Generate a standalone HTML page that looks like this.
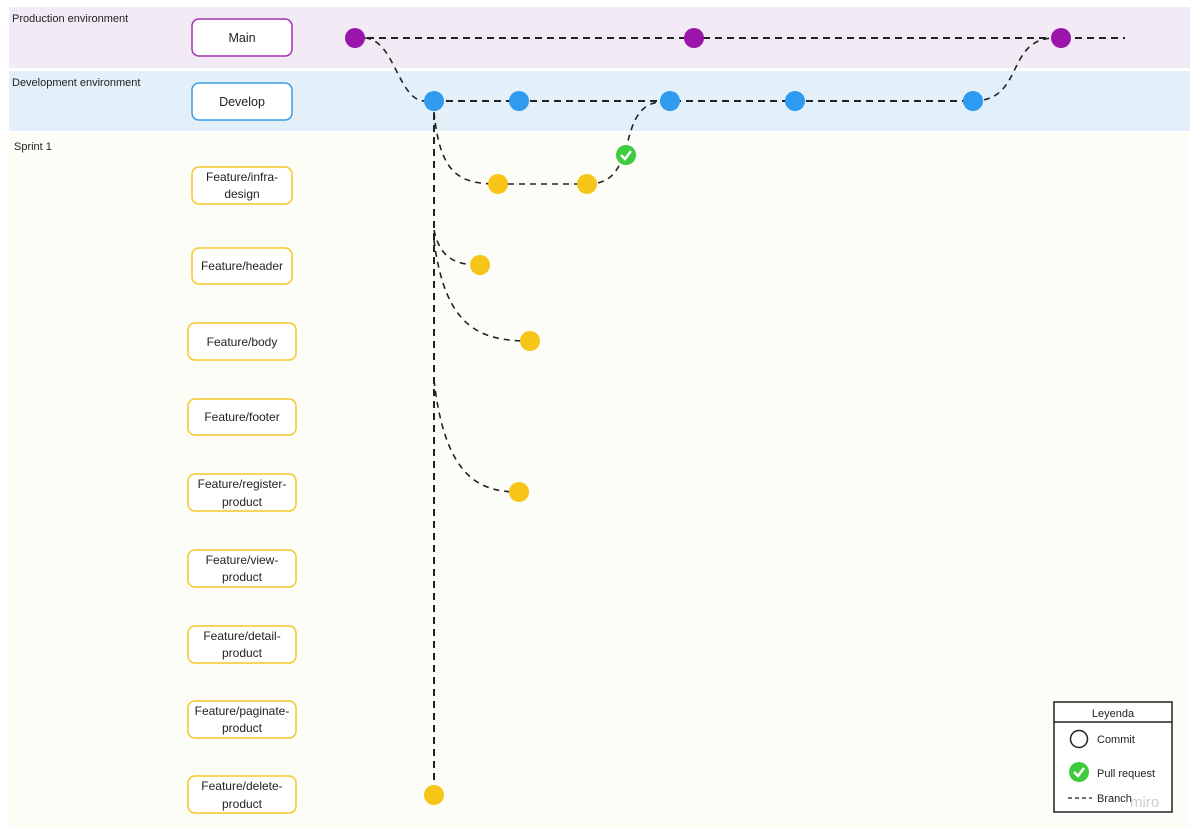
<!DOCTYPE html>
<html><head><meta charset="utf-8"><style>
html,body{margin:0;padding:0;background:#fff;}
svg{display:block;font-family:"Liberation Sans",sans-serif;}
</style></head><body>
<svg width="1197" height="835" viewBox="0 0 1197 835" xmlns="http://www.w3.org/2000/svg">
<rect x="0" y="0" width="1197" height="835" fill="#fff"/>
<rect x="9" y="7" width="1181" height="61" fill="#f2eaf5"/>
<rect x="9" y="71" width="1181" height="60" fill="#e3eff9"/>
<rect x="9" y="133" width="1181" height="695" fill="#fdfdf8"/>
<g font-size="11" fill="#222">
<text x="12" y="22">Production environment</text>
<text x="12" y="86">Development environment</text>
<text x="14" y="150">Sprint 1</text>
</g>
<rect x="192" y="19" width="100" height="37" rx="7" fill="#fff" stroke="#a632b4" stroke-width="1.5"/>
<text x="242" y="42" font-size="12.5" text-anchor="middle" fill="#222">Main</text>
<rect x="192" y="83" width="100" height="37" rx="7" fill="#fff" stroke="#3a9be3" stroke-width="1.5"/>
<text x="242" y="106" font-size="12.5" text-anchor="middle" fill="#222">Develop</text>
<g fill="#fff" stroke="#f5c829" stroke-width="1.5">
<rect x="192" y="167" width="100" height="37" rx="7"/>
<rect x="192" y="248" width="100" height="36" rx="7"/>
<rect x="188" y="323" width="108" height="37" rx="7"/>
<rect x="188" y="399" width="108" height="36" rx="7"/>
<rect x="188" y="474" width="108" height="37" rx="7"/>
<rect x="188" y="550" width="108" height="37" rx="7"/>
<rect x="188" y="626" width="108" height="37" rx="7"/>
<rect x="188" y="701" width="108" height="37" rx="7"/>
<rect x="188" y="776" width="108" height="37" rx="7"/>
</g>
<g font-size="12" text-anchor="middle" fill="#222">
<text x="242" y="181">Feature/infra-</text><text x="242" y="198">design</text>
<text x="242" y="270">Feature/header</text>
<text x="242" y="346">Feature/body</text>
<text x="242" y="421">Feature/footer</text>
<text x="242" y="488">Feature/register-</text><text x="242" y="506">product</text>
<text x="242" y="564">Feature/view-</text><text x="242" y="581">product</text>
<text x="242" y="640">Feature/detail-</text><text x="242" y="657">product</text>
<text x="242" y="715">Feature/paginate-</text><text x="242" y="732">product</text>
<text x="242" y="790">Feature/delete-</text><text x="242" y="808">product</text>
</g>
<g fill="none" stroke="#222" stroke-width="2" stroke-dasharray="7,5">
<path d="M355,38 L1125,38"/>
<path d="M434,101 L973,101"/>
<path d="M434,101 L434,795"/>
</g>
<g fill="none" stroke="#222" stroke-width="1.6" stroke-dasharray="6,5">
<path d="M365,38 C395,40 398,101 425,101"/>
<path d="M973,101 C1025,101 1005,38 1055,38"/>
<path d="M434,112 C440,175 460,184 498,184 L587,184"/>
<path d="M587,184 C612,184 618,170 626,150 C634,110 645,101 670,101"/>
<path d="M434,230 C440,258 455,265 480,265"/>
<path d="M434,240 C445,328 480,341 530,341"/>
<path d="M434,380 C445,478 480,492 519,492"/>
</g>
<g fill="#9a16aa">
<circle cx="355" cy="38" r="10"/><circle cx="694" cy="38" r="10"/><circle cx="1061" cy="38" r="10"/>
</g>
<g fill="#2f9bf0">
<circle cx="434" cy="101" r="10"/><circle cx="519" cy="101" r="10"/><circle cx="670" cy="101" r="10"/><circle cx="795" cy="101" r="10"/><circle cx="973" cy="101" r="10"/>
</g>
<g fill="#f6c518">
<circle cx="498" cy="184" r="10"/><circle cx="587" cy="184" r="10"/><circle cx="480" cy="265" r="10"/><circle cx="530" cy="341" r="10"/><circle cx="519" cy="492" r="10"/><circle cx="434" cy="795" r="10"/>
</g>
<circle cx="626" cy="155" r="10" fill="#3ecb3e"/>
<path d="M621,155 L625,159 L631,151" fill="none" stroke="#fff" stroke-width="2.5"/>
<rect x="1054" y="702" width="118" height="110" fill="#fff" stroke="#222" stroke-width="1.5"/>
<line x1="1054" y1="722" x2="1172" y2="722" stroke="#222" stroke-width="1.5"/>
<text x="1113" y="717" font-size="11" text-anchor="middle" fill="#222">Leyenda</text>
<circle cx="1079" cy="739" r="8.5" fill="none" stroke="#222" stroke-width="1.5"/>
<text x="1097" y="743" font-size="11" fill="#222">Commit</text>
<circle cx="1079" cy="772" r="10" fill="#3ecb3e"/>
<path d="M1074,772 L1078,776 L1084,768" fill="none" stroke="#fff" stroke-width="2.5"/>
<text x="1097" y="777" font-size="11" fill="#222">Pull request</text>
<line x1="1068" y1="798" x2="1092" y2="798" stroke="#222" stroke-width="1.3" stroke-dasharray="4,3"/>
<text x="1097" y="802" font-size="11" fill="#222">Branch</text>
<text x="1130" y="807" font-size="15" fill="#ccc">miro</text>
</svg>
</body></html>
